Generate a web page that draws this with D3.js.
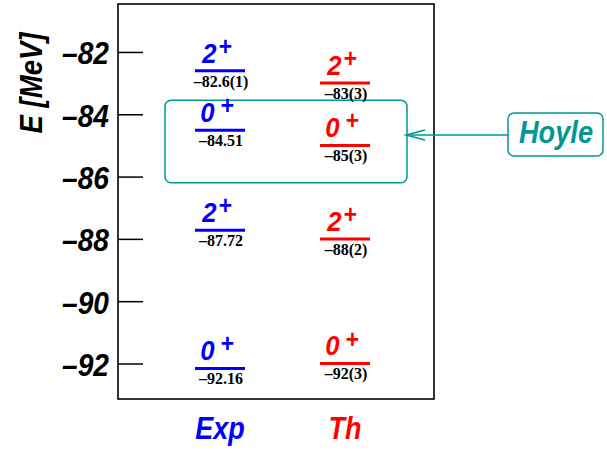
<!DOCTYPE html>
<html>
<head>
<meta charset="utf-8">
<script src="https://cdn.jsdelivr.net/npm/d3@7"></script>
<style>
  html, body { margin: 0; padding: 0; background: #fff; }
  svg { display: block; }
</style>
</head>
<body>
<svg id="chart" width="607" height="455"></svg>
<script>
// 12C low-lying levels: experiment vs. theory (binding energies in MeV)
const columns = ["Exp", "Th"];
const columnColors = ["#0000ff", "#ff0000"];

const expSpins = ["2", "0", "2", "0"];
const expEnergies = [-82.6, -84.51, -87.72, -92.16];
const expLabels = ["–82.6(1)", "–84.51", "–87.72", "–92.16"];

const thSpins = ["2", "0", "2", "0"];
const thEnergies = [-83, -85, -88, -92];
const thLabels = ["–83(3)", "–85(3)", "–88(2)", "–92(3)"];

const yTicks = [-92, -90, -88, -86, -84, -82];
const hoyleRange = [-83.55, -86.2];

const teal = "#009696";
const boldItalic = "'Liberation Sans', Arial, Helvetica, sans-serif";

const svg = d3.select("#chart");

const frame = { left: 118, right: 434, top: 4, bottom: 399 };

const y = d3.scaleLinear().domain([-93.14, -80.46]).range([frame.bottom, frame.top]);
const x = d3.scalePoint().domain(columns).range([220, 345]);

// frame
svg.append("rect")
  .attr("x", frame.left).attr("y", frame.top)
  .attr("width", frame.right - frame.left).attr("height", frame.bottom - frame.top)
  .attr("fill", "none").attr("stroke", "#000").attr("stroke-width", 1.6);

// left axis with inward ticks
const axis = svg.append("g")
  .attr("transform", `translate(${frame.left},0)`)
  .call(d3.axisLeft(y).tickValues(yTicks).tickSize(-25).tickPadding(0)
    .tickFormat(d => "–" + Math.abs(d)));
axis.select(".domain").remove();
axis.selectAll(".tick line").attr("stroke", "#000").attr("stroke-width", 1.5);
axis.selectAll(".tick text")
  .attr("x", null).attr("dy", null)
  .attr("transform", "translate(-9,12) scale(0.88,1)")
  .attr("text-anchor", "end")
  .attr("fill", "#000")
  .style("font-family", boldItalic)
  .style("font-size", "32px")
  .style("font-weight", "bold")
  .style("font-style", "italic");

// axis title
svg.append("text")
  .attr("transform", "translate(41.5,83) rotate(-90) scale(0.86,1)")
  .attr("text-anchor", "middle")
  .style("font-family", boldItalic).style("font-size", "32px")
  .style("font-weight", "bold").style("font-style", "italic")
  .text("E [MeV]");

// Hoyle state frame
svg.append("rect")
  .attr("x", 165).attr("y", y(hoyleRange[0]))
  .attr("width", 407 - 165).attr("height", y(hoyleRange[1]) - y(hoyleRange[0]))
  .attr("rx", 6).attr("ry", 6)
  .attr("fill", "none").attr("stroke", teal).attr("stroke-width", 1.5);

// levels
const sets = [
  { col: "Exp", spins: expSpins, energies: expEnergies, labels: expLabels },
  { col: "Th", spins: thSpins, energies: thEnergies, labels: thLabels }
];

sets.forEach((s, si) => {
  const color = columnColors[si];
  const cx = x(s.col);
  const g = svg.append("g");
  const levels = s.energies.map((e, i) => ({ e, spin: s.spins[i], label: s.labels[i] }));

  g.selectAll("line.level").data(levels).join("line")
    .attr("class", "level")
    .attr("x1", cx - 25).attr("x2", cx + 25)
    .attr("y1", d => y(d.e)).attr("y2", d => y(d.e))
    .attr("stroke", color).attr("stroke-width", 3);

  const spinText = g.selectAll("text.spin").data(levels).join("text")
    .attr("class", "spin")
    .attr("transform", d => `translate(${cx - 3},${y(d.e) - 8}) scale(0.92,1)`)
    .attr("text-anchor", "middle")
    .attr("fill", color)
    .style("font-family", boldItalic).style("font-size", "28px")
    .style("font-weight", "bold").style("font-style", "italic");
  spinText.append("tspan").text(d => d.spin);
  spinText.append("tspan")
    .attr("dx", d => d.spin === "0" ? 6 : 2)
    .attr("dy", -8)
    .style("font-size", "25px")
    .text("+");

  g.selectAll("text.value").data(levels).join("text")
    .attr("class", "value")
    .attr("x", cx + 1).attr("y", d => y(d.e) + 16)
    .attr("text-anchor", "middle")
    .attr("fill", "#000")
    .style("font-family", "'Liberation Serif', 'Times New Roman', serif")
    .style("font-size", "16px").style("font-weight", "bold")
    .text(d => d.label);
});

// column labels
svg.selectAll("text.col").data(columns).join("text")
  .attr("class", "col")
  .attr("transform", d => `translate(${x(d)},439) scale(0.87,1)`)
  .attr("text-anchor", "middle")
  .attr("fill", (d, i) => columnColors[i])
  .style("font-family", boldItalic).style("font-size", "31px")
  .style("font-weight", "bold").style("font-style", "italic")
  .text(d => d);

// Hoyle tag and arrow
const arrowY = 135;
svg.append("line")
  .attr("x1", 508).attr("x2", 406).attr("y1", arrowY).attr("y2", arrowY)
  .attr("stroke", teal).attr("stroke-width", 1.5);
svg.append("path")
  .attr("d", `M425,${arrowY - 5} L406,${arrowY} L425,${arrowY + 5}`)
  .attr("fill", "none").attr("stroke", teal).attr("stroke-width", 1.5);
svg.append("rect")
  .attr("x", 508).attr("y", 113).attr("width", 95).attr("height", 43)
  .attr("rx", 6).attr("ry", 6)
  .attr("fill", "#fff").attr("stroke", teal).attr("stroke-width", 1.5);
svg.append("text")
  .attr("transform", "translate(556,143) scale(0.85,1)")
  .attr("text-anchor", "middle")
  .attr("fill", teal)
  .style("font-family", boldItalic).style("font-size", "32px")
  .style("font-weight", "bold").style("font-style", "italic")
  .text("Hoyle");
</script>
</body>
</html>
